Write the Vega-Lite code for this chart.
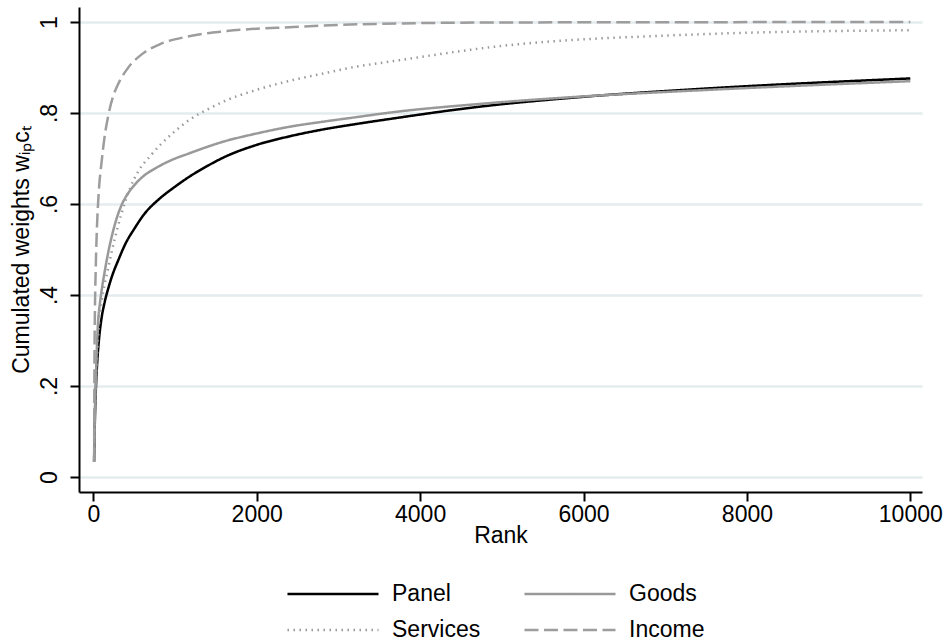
{
  "$schema": "https://vega.github.io/schema/vega-lite/v6.json",
  "autosize": {"type": "none"},
  "padding": {"left": 79, "top": 7, "right": 22, "bottom": 152},
  "width": 843,
  "height": 485,
  "background": "white",
  "config": {
    "font": "Liberation Sans",
    "view": {"stroke": null},
    "axis": {
      "domainColor": "black", "domainWidth": 2, "tickColor": "black", "tickWidth": 2, "tickSize": 9,
      "labelFont": "Liberation Sans", "labelFontSize": 23, "labelColor": "black",
      "titleFont": "Liberation Sans", "titleFontSize": 23, "titleFontWeight": "normal", "titleColor": "black"
    },
    "legend": {"labelFont": "Liberation Sans", "labelFontSize": 23, "labelColor": "black", "padding": 0}
  },
  "data": {"values": [
    {"series": "Panel", "rank": 10, "w": 0.034},
    {"series": "Panel", "rank": 20, "w": 0.13},
    {"series": "Panel", "rank": 33, "w": 0.2},
    {"series": "Panel", "rank": 50, "w": 0.258},
    {"series": "Panel", "rank": 70, "w": 0.303},
    {"series": "Panel", "rank": 100, "w": 0.348},
    {"series": "Panel", "rank": 140, "w": 0.385},
    {"series": "Panel", "rank": 184, "w": 0.415},
    {"series": "Panel", "rank": 240, "w": 0.447},
    {"series": "Panel", "rank": 300, "w": 0.474},
    {"series": "Panel", "rank": 400, "w": 0.515},
    {"series": "Panel", "rank": 500, "w": 0.545},
    {"series": "Panel", "rank": 633, "w": 0.58},
    {"series": "Panel", "rank": 800, "w": 0.61},
    {"series": "Panel", "rank": 1000, "w": 0.638},
    {"series": "Panel", "rank": 1184, "w": 0.661},
    {"series": "Panel", "rank": 1400, "w": 0.684},
    {"series": "Panel", "rank": 1591, "w": 0.702},
    {"series": "Panel", "rank": 2000, "w": 0.73},
    {"series": "Panel", "rank": 2408, "w": 0.749},
    {"series": "Panel", "rank": 2816, "w": 0.764},
    {"series": "Panel", "rank": 3224, "w": 0.776},
    {"series": "Panel", "rank": 3632, "w": 0.787},
    {"series": "Panel", "rank": 4733, "w": 0.814},
    {"series": "Panel", "rank": 5957, "w": 0.835},
    {"series": "Panel", "rank": 7426, "w": 0.853},
    {"series": "Panel", "rank": 10000, "w": 0.876},
    {"series": "Goods", "rank": 10, "w": 0.034},
    {"series": "Goods", "rank": 18, "w": 0.13},
    {"series": "Goods", "rank": 29, "w": 0.2},
    {"series": "Goods", "rank": 45, "w": 0.29},
    {"series": "Goods", "rank": 60, "w": 0.345},
    {"series": "Goods", "rank": 80, "w": 0.38},
    {"series": "Goods", "rank": 102, "w": 0.41},
    {"series": "Goods", "rank": 143, "w": 0.455},
    {"series": "Goods", "rank": 190, "w": 0.5},
    {"series": "Goods", "rank": 225, "w": 0.528},
    {"series": "Goods", "rank": 280, "w": 0.565},
    {"series": "Goods", "rank": 347, "w": 0.598},
    {"series": "Goods", "rank": 420, "w": 0.622},
    {"series": "Goods", "rank": 500, "w": 0.641},
    {"series": "Goods", "rank": 612, "w": 0.661},
    {"series": "Goods", "rank": 755, "w": 0.678},
    {"series": "Goods", "rank": 950, "w": 0.696},
    {"series": "Goods", "rank": 1184, "w": 0.712},
    {"series": "Goods", "rank": 1591, "w": 0.737},
    {"series": "Goods", "rank": 2000, "w": 0.755},
    {"series": "Goods", "rank": 2408, "w": 0.77},
    {"series": "Goods", "rank": 2816, "w": 0.781},
    {"series": "Goods", "rank": 3224, "w": 0.791},
    {"series": "Goods", "rank": 3632, "w": 0.801},
    {"series": "Goods", "rank": 4733, "w": 0.82},
    {"series": "Goods", "rank": 5957, "w": 0.836},
    {"series": "Goods", "rank": 7426, "w": 0.85},
    {"series": "Goods", "rank": 10000, "w": 0.87},
    {"series": "Services", "rank": 10, "w": 0.034},
    {"series": "Services", "rank": 18, "w": 0.12},
    {"series": "Services", "rank": 30, "w": 0.2},
    {"series": "Services", "rank": 50, "w": 0.28},
    {"series": "Services", "rank": 75, "w": 0.345},
    {"series": "Services", "rank": 102, "w": 0.385},
    {"series": "Services", "rank": 140, "w": 0.425},
    {"series": "Services", "rank": 184, "w": 0.46},
    {"series": "Services", "rank": 225, "w": 0.495},
    {"series": "Services", "rank": 265, "w": 0.525},
    {"series": "Services", "rank": 300, "w": 0.55},
    {"series": "Services", "rank": 347, "w": 0.58},
    {"series": "Services", "rank": 400, "w": 0.61},
    {"series": "Services", "rank": 450, "w": 0.635},
    {"series": "Services", "rank": 551, "w": 0.672},
    {"series": "Services", "rank": 700, "w": 0.706},
    {"series": "Services", "rank": 837, "w": 0.733},
    {"series": "Services", "rank": 1000, "w": 0.76},
    {"series": "Services", "rank": 1184, "w": 0.786},
    {"series": "Services", "rank": 1400, "w": 0.808},
    {"series": "Services", "rank": 1591, "w": 0.825},
    {"series": "Services", "rank": 2000, "w": 0.851},
    {"series": "Services", "rank": 2408, "w": 0.871},
    {"series": "Services", "rank": 2816, "w": 0.887},
    {"series": "Services", "rank": 3224, "w": 0.902},
    {"series": "Services", "rank": 3632, "w": 0.913},
    {"series": "Services", "rank": 4978, "w": 0.947},
    {"series": "Services", "rank": 7426, "w": 0.973},
    {"series": "Services", "rank": 10000, "w": 0.982},
    {"series": "Income", "rank": 10, "w": 0.034},
    {"series": "Income", "rank": 13, "w": 0.2},
    {"series": "Income", "rank": 16, "w": 0.3},
    {"series": "Income", "rank": 21, "w": 0.38},
    {"series": "Income", "rank": 30, "w": 0.46},
    {"series": "Income", "rank": 41, "w": 0.53},
    {"series": "Income", "rank": 55, "w": 0.59},
    {"series": "Income", "rank": 70, "w": 0.635},
    {"series": "Income", "rank": 100, "w": 0.69},
    {"series": "Income", "rank": 140, "w": 0.75},
    {"series": "Income", "rank": 184, "w": 0.795},
    {"series": "Income", "rank": 240, "w": 0.835},
    {"series": "Income", "rank": 300, "w": 0.862},
    {"series": "Income", "rank": 420, "w": 0.898},
    {"series": "Income", "rank": 600, "w": 0.93},
    {"series": "Income", "rank": 800, "w": 0.95},
    {"series": "Income", "rank": 1150, "w": 0.968},
    {"series": "Income", "rank": 1633, "w": 0.98},
    {"series": "Income", "rank": 2448, "w": 0.989},
    {"series": "Income", "rank": 3264, "w": 0.995},
    {"series": "Income", "rank": 5000, "w": 0.999},
    {"series": "Income", "rank": 10000, "w": 1.0}
  ]},
  "mark": {"type": "line", "interpolate": "monotone", "strokeWidth": 2.5, "strokeCap": "butt"},
  "encoding": {
    "x": {
      "field": "rank", "type": "quantitative",
      "scale": {"domain": [-175, 10143], "nice": false, "zero": false},
      "axis": {"values": [0, 2000, 4000, 6000, 8000, 10000], "format": "d", "grid": false, "labelPadding": 2, "title": "Rank", "titlePadding": -2, "labelFlush": false}
    },
    "y": {
      "field": "w", "type": "quantitative",
      "scale": {"domain": [-0.033, 1.033], "nice": false, "zero": false},
      "axis": {
        "values": [0, 0.2, 0.4, 0.6, 0.8, 1],
        "labelExpr": "datum.value == 0 ? '0' : datum.value == 1 ? '1' : '.' + round(datum.value * 10)",
        "labelAngle": -90, "labelAlign": "center", "labelBaseline": "alphabetic", "labelPadding": 14,
        "grid": true, "gridColor": "#e4ecef", "gridWidth": 2.5, "labelFlush": false,
        "title": "Cumulated weights wᵢₚcₜ", "titlePadding": 5
      }
    },
    "color": {
      "field": "series", "type": "nominal",
      "scale": {"domain": ["Panel", "Goods", "Services", "Income"], "range": ["#000000", "#999999", "#999999", "#9d9d9d"]},
      "legend": {"title": null, "orient": "none", "legendX": 241, "legendY": 574, "columns": 2, "direction": "horizontal", "symbolType": "M-4,0H4", "symbolSize": 518, "symbolStrokeWidth": 2.5, "labelOffset": 46, "columnPadding": 38, "rowPadding": 11}
    },
    "strokeDash": {
      "field": "series", "type": "nominal",
      "scale": {"domain": ["Panel", "Goods", "Services", "Income"], "range": [[1, 0], [1, 0], [1.5, 4.5], [14, 5.5]]},
      "legend": {"title": null, "orient": "none", "legendX": 241, "legendY": 574, "columns": 2, "direction": "horizontal", "symbolType": "M-4,0H4", "symbolSize": 518, "symbolStrokeWidth": 2.5, "labelOffset": 46, "columnPadding": 38, "rowPadding": 11}
    }
  }
}
